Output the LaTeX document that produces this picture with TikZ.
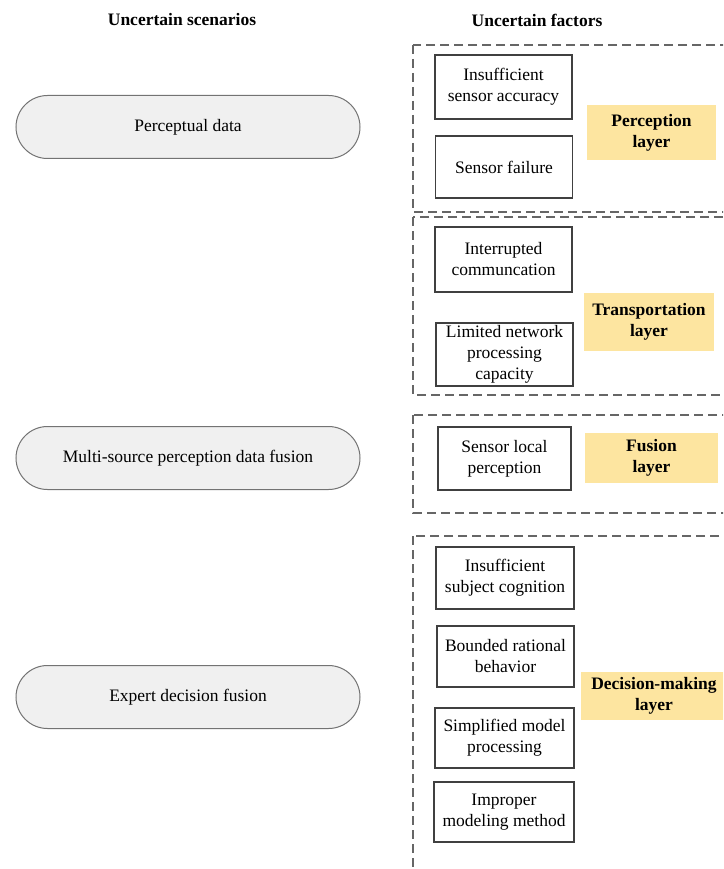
\documentclass[tikz,border=0pt]{standalone}
\usepackage{fontspec}
\setmainfont{Liberation Serif}
\begin{document}
\begin{tikzpicture}[x=1pt,y=-1pt,
  every node/.style={font=\fontsize{17.5}{21}\selectfont, align=center, inner sep=0pt},
  title/.style={font=\fontsize{17.5}{21}\selectfont\bfseries},
  scenario/.style={draw=black!55, line width=1pt, fill=black!6, rounded corners=31.5pt,
    minimum width=344pt, minimum height=63pt},
  factor/.style={draw=black!75, line width=1.2pt, fill=white, minimum width=137pt, minimum height=62pt},
  layerbox/.style={fill=layeryellow, font=\fontsize{17.5}{21}\selectfont\bfseries},
  group/.style={draw=black!60, line width=1.4pt, dash pattern=on 9pt off 5pt}
]
\definecolor{layeryellow}{HTML}{FDE5A0}
\clip (0,0) rectangle (723,869);
\fill[white] (0,0) rectangle (723,869);

% column headings
\node[title] (hs) at (182,20) {Uncertain scenarios};
\node[title] (hf) at (537,20) {Uncertain factors};

% scenarios
\node[scenario] (s1) at (188,127) {Perceptual data};
\node[scenario] (s2) at (188,458) {Multi-source perception data fusion};
\node[scenario] (s3) at (188,697) {Expert decision fusion};

% dashed groups
\draw[group] (413,45) rectangle (740,212);
\draw[group] (413,217) rectangle (740,395);
\draw[group] (413,415) rectangle (740,513);
\draw[group] (413,536) rectangle (740,880);

% perception layer
\node[factor, minimum height=64pt] (p1) at (503.5,87) {Insufficient\\sensor accuracy};
\node[factor] (p2) at (504,167) {Sensor failure};
\node[layerbox, minimum width=129pt, minimum height=55pt] (pl) at (651.5,132.5) {Perception\\layer};

% transportation layer
\node[factor, minimum height=65pt] (t1) at (503.5,259.5) {Interrupted\\communcation};
\node[factor, minimum height=63pt] (t2) at (504.5,354.5) {Limited network\\processing\\capacity};
\node[layerbox, minimum width=130pt, minimum height=58pt] (tl) at (649,322) {Transportation\\layer};

% fusion layer
\node[factor, minimum width=133pt, minimum height=63pt] (f1) at (504.5,458.5) {Sensor local\\perception};
\node[layerbox, minimum width=133pt, minimum height=50pt] (fl) at (651.5,458) {Fusion\\layer};

% decision-making layer
\node[factor, minimum width=138pt] (d1) at (505,578) {Insufficient\\subject cognition};
\node[factor, minimum width=137pt, minimum height=61pt] (d2) at (505.5,656.5) {Bounded rational\\behavior};
\node[factor, minimum width=139pt, minimum height=60pt] (d3) at (504.5,738) {Simplified model\\processing};
\node[factor, minimum width=140pt, minimum height=60pt] (d4) at (504,812) {Improper\\modeling method};
\node[layerbox, minimum width=146pt, minimum height=48pt] (dl) at (654,696) {Decision-making\\layer};
\end{tikzpicture}
\end{document}
